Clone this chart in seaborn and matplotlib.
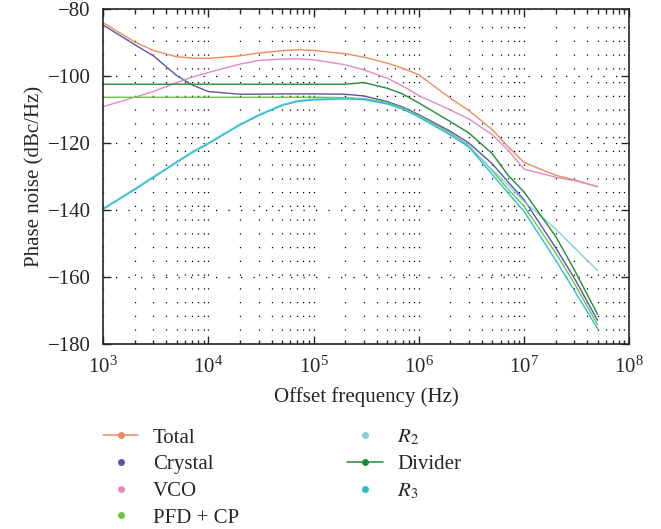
import numpy as np
import pandas as pd
import matplotlib
matplotlib.use('Agg')
import matplotlib.pyplot as plt
from matplotlib.lines import Line2D
from matplotlib.ticker import LogLocator
import seaborn as sns

# offset frequencies (Hz)
freq = [1e3, 2e3, 3e3, 5e3, 7e3, 1e4, 2e4, 3e4, 5e4, 7e4, 1e5, 2e5, 3e5, 5e5, 7e5,
        1e6, 2e6, 3e6, 5e6, 7e6, 1e7, 2e7, 3e7, 5e7]

total = [-84.0, -89.8, -92.3, -94.2, -94.6, -94.7, -93.9, -93.1, -92.4, -92.1, -92.3,
         -93.3, -94.3, -96.1, -97.6, -99.6, -106.6, -110.3, -116.0, -121.0, -125.8,
         -129.6, -131.0, -133.0]
crystal = [-84.7, -90.6, -93.9, -99.8, -102.6, -104.6, -105.4, -105.4, -105.3, -105.3,
           -105.3, -105.4, -105.9, -107.6, -109.2, -111.5, -116.5, -120.0, -126.2,
           -131.5, -136.9, -151.3, -160.3, -173.0]
vco = [-109.1, -106.3, -104.6, -101.9, -100.3, -98.9, -96.4, -95.3, -94.9, -94.8, -95.1,
       -96.6, -98.1, -100.6, -102.9, -105.8, -110.1, -112.8, -117.5, -122.0, -127.8,
       -130.2, -131.2, -133.0]
pfd_cp = [-106.3, -106.3, -106.3, -106.3, -106.3, -106.3, -106.3, -106.3, -106.3, -106.3,
          -106.3, -106.4, -106.7, -107.9, -109.5, -111.8, -117.0, -120.8, -128.3,
          -133.7, -138.9, -152.8, -161.9, -174.3]
r2 = [-139.5, -133.6, -130.0, -125.5, -122.6, -119.9, -114.3, -111.5, -108.5, -107.3,
      -106.8, -106.6, -106.9, -108.2, -109.7, -112.0, -117.3, -121.0, -128.0, -132.5,
      -137.4, -145.7, -151.2, -158.1]
divider = [-102.4, -102.4, -102.4, -102.4, -102.4, -102.4, -102.4, -102.4, -102.4, -102.4,
           -102.4, -102.4, -101.9, -103.6, -105.3, -108.0, -113.6, -117.0, -123.2,
           -129.5, -134.6, -147.9, -157.8, -171.2]
r3 = [-139.8, -133.9, -130.3, -125.8, -122.9, -120.2, -114.6, -111.8, -108.8, -107.6,
      -107.1, -106.8, -107.0, -108.3, -109.8, -112.2, -117.6, -121.2, -129.4, -134.8,
      -140.4, -155.0, -164.0, -175.5]

names = ['Total', 'Crystal', 'VCO', 'PFD + CP', '$R_2$', 'Divider', '$R_3$']
series = [total, crystal, vco, pfd_cp, r2, divider, r3]
colors = ['#EE8A5E', '#5A55A8', '#E28BC3', '#6CC444', '#80D0DA', '#228B3A', '#2EBBD8']

df = pd.concat([pd.DataFrame({'f': freq, 'dB': s, 'name': n})
                for n, s in zip(names, series)], ignore_index=True)

sns.set_style('ticks')
plt.rcParams['font.family'] = ['Liberation Serif', 'DejaVu Serif']
plt.rcParams['mathtext.fontset'] = 'stix'

fig = plt.figure(figsize=(6.61, 5.29), dpi=100)
ax = fig.add_axes([0.156, 0.35, 0.796, 0.6325])

sns.lineplot(data=df, x='f', y='dB', hue='name', hue_order=names,
             palette=dict(zip(names, colors)), sort=False, legend=False,
             linewidth=1.0, ax=ax)

ax.set_xscale('log')
ax.set_xlim(1e3, 1e8)
ax.set_ylim(-180, -80)
ax.set_yticks(np.arange(-180, -79, 20))
ax.set_yticklabels(['\u2212%d' % abs(v) for v in range(-180, -79, 20)])
ax.xaxis.set_major_locator(LogLocator(base=10, numticks=10))
ax.xaxis.set_minor_locator(LogLocator(base=10, subs=np.arange(2, 10), numticks=10))

ax.grid(True, which='both', axis='x', color='black', linestyle=(0, (1, 10)), linewidth=0.9)
ax.grid(True, which='major', axis='y', color='black', linestyle=(0, (1, 9)), linewidth=0.9)

ax.tick_params(which='both', direction='in', top=True, right=True, labelsize=15, width=1.0)
ax.tick_params(which='major', length=6)
ax.tick_params(which='minor', length=3)
ax.tick_params(axis='x', which='major', pad=9)
ax.tick_params(axis='y', which='major', pad=9)
for sp in ax.spines.values():
    sp.set_linewidth(1.2)

ax.set_xlabel('Offset frequency (Hz)', fontsize=15, labelpad=7)
ax.set_ylabel('Phase noise (dBc/Hz)', fontsize=15, labelpad=2)

handles = []
for n, c in zip(names, colors):
    ls = '-' if n in ('Total', 'Divider') else 'none'
    handles.append(Line2D([], [], color=c, linestyle=ls, linewidth=1.1,
                          marker='o', markersize=4))
fig.legend(handles, names, ncol=2, loc='upper left', bbox_to_anchor=(0.143, 0.207),
           frameon=False, fontsize=15, handlelength=1.7, handletextpad=0.7,
           labelspacing=0.34, columnspacing=5.2, borderaxespad=0)

fig.savefig('out.png', dpi=100)
